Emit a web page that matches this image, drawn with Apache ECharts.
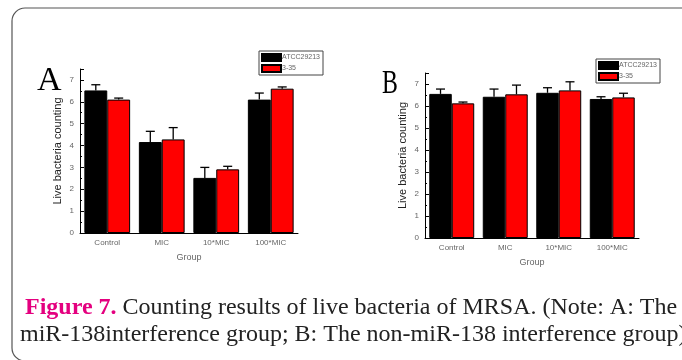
<!DOCTYPE html>
<html>
<head>
<meta charset="utf-8">
<script src="https://cdn.jsdelivr.net/npm/echarts@6/dist/echarts.min.js"></script>
<style>
  html, body { margin: 0; padding: 0; background: #fff; }
  #chart { width: 682px; height: 360px; }
</style>
</head>
<body>
<div id="chart"></div>
<script>
// groups on the x axis
const groups = ['Control', 'MIC', '10*MIC', '100*MIC']
const seriesNames = ['ATCC29213', '3-35']

// panel A: miR-138 interference group (mean and top of error bar)
const aAtcc = [6.52, 4.16, 2.52, 6.10]
const aAtccUpper = [6.78, 4.65, 3.00, 6.40]
const a335 = [6.10, 4.28, 2.91, 6.60]
const a335Upper = [6.17, 4.82, 3.05, 6.68]

// panel B: non-miR-138 interference group
const bAtcc = [6.55, 6.42, 6.60, 6.32]
const bAtccUpper = [6.77, 6.77, 6.83, 6.42]
const b335 = [6.12, 6.53, 6.71, 6.39]
const b335Upper = [6.18, 6.95, 7.10, 6.58]

const yTicks = [0, 1, 2, 3, 4, 5, 6, 7]

const chart = echarts.init(document.getElementById('chart'))
const gapRatio = 0.16
const axisGray = '#666'

function errorSeries(idx, means, uppers, side) {
  return {
    type: 'custom',
    xAxisIndex: idx, yAxisIndex: idx,
    silent: true, z: 5,
    data: means.map((m, i) => [i, m, uppers[i]]),
    renderItem(params, api) {
      const band = api.size([1, 0])[0]
      const off = side * band * (1 - gapRatio) / 4
      const base = api.coord([api.value(0), api.value(1)])
      const top = api.coord([api.value(0), api.value(2)])
      const x = base[0] + off
      const cap = 4.5
      return {
        type: 'group',
        children: [
          { type: 'line', shape: { x1: x, y1: base[1], x2: x, y2: top[1] }, style: { stroke: '#000', lineWidth: 1.3 } },
          { type: 'line', shape: { x1: x - cap, y1: top[1], x2: x + cap, y2: top[1] }, style: { stroke: '#000', lineWidth: 1.3 } }
        ]
      }
    }
  }
}

function xAxisFor(idx) {
  return {
    type: 'category', gridIndex: idx, data: groups,
    name: 'Group', nameLocation: 'middle', nameGap: 20,
    nameTextStyle: { color: axisGray, fontSize: 9, fontFamily: 'Liberation Sans', letterSpacing: 1 },
    axisLine: { lineStyle: { color: '#000', width: 1 } },
    axisTick: { show: false },
    axisLabel: { color: axisGray, fontSize: 8, margin: 6, fontFamily: 'Liberation Sans', letterSpacing: 0.8 }
  }
}

function yAxisFor(idx) {
  return {
    type: 'value', gridIndex: idx, min: 0, max: 7.5, interval: 1,
    name: 'Live bacteria counting', nameLocation: 'middle', nameGap: 17,
    nameTextStyle: { color: '#222', fontSize: 11, fontFamily: 'Liberation Sans' },
    axisLine: { show: true, lineStyle: { color: '#000', width: 1 } },
    axisTick: { show: true, inside: true, length: 4, lineStyle: { color: '#000' } },
    minorTick: { show: true, splitNumber: 2, length: 2, lineStyle: { color: '#000' } },
    splitLine: { show: false },
    axisLabel: {
      color: axisGray, fontSize: 8, margin: 6, fontFamily: 'Liberation Sans',
      showMaxLabel: false,
      formatter: v => (yTicks.indexOf(v) >= 0 ? String(v) : '')
    }
  }
}

function barSeries(idx, name, values, color) {
  return {
    name, type: 'bar', xAxisIndex: idx, yAxisIndex: idx,
    data: values, barGap: 0, barCategoryGap: (gapRatio * 100) + '%',
    itemStyle: { color, borderColor: '#000', borderWidth: 1 }
  }
}

function legendFor(left, top) {
  return {
    data: seriesNames, orient: 'vertical', left, top,
    itemWidth: 19, itemHeight: 7, itemGap: 2,
    padding: [2, 3, 2, 2],
    borderColor: '#444', borderWidth: 1,
    icon: 'rect', selectedMode: false,
    textStyle: { color: axisGray, fontSize: 7, padding: [0, 0, 0, -4], fontFamily: 'Liberation Sans' }
  }
}

chart.setOption({
  backgroundColor: '#fff',
  animation: false,
  grid: [
    { left: 80, right: 384, top: 69, bottom: 127 },
    { left: 425, right: 43, top: 73, bottom: 122 }
  ],
  xAxis: [xAxisFor(0), xAxisFor(1)],
  yAxis: [yAxisFor(0), yAxisFor(1)],
  legend: [legendFor(259, 51), legendFor(596, 59)],
  series: [
    barSeries(0, seriesNames[0], aAtcc, '#000'),
    barSeries(0, seriesNames[1], a335, '#ff0000'),
    barSeries(1, seriesNames[0], bAtcc, '#000'),
    barSeries(1, seriesNames[1], b335, '#ff0000'),
    errorSeries(0, aAtcc, aAtccUpper, -1),
    errorSeries(0, a335, a335Upper, 1),
    errorSeries(1, bAtcc, bAtccUpper, -1),
    errorSeries(1, b335, b335Upper, 1)
  ],
  graphic: [
    // rounded frame around the figure
    { type: 'rect', shape: { x: 12, y: 8, width: 720, height: 353, r: 13 }, style: { fill: 'none', stroke: '#555', lineWidth: 1.2 }, silent: true },
    { type: 'text', x: 37, y: 64, style: { text: 'A', font: '34px "Liberation Serif"', fill: '#000' } },
    { type: 'text', x: 382, y: 67, scaleX: 0.7, style: { text: 'B', font: '34px "Liberation Serif"', fill: '#000' } },
    {
      type: 'text', x: 25, y: 296,
      style: {
        text: '{f|Figure 7.} Counting results of live bacteria of MRSA. (Note: A: The',
        font: '24px "Liberation Serif"', fill: '#222',
        rich: { f: { fontWeight: 'bold', fill: '#e4007f', fontSize: 24, fontFamily: 'Liberation Serif' } }
      }
    },
    {
      type: 'text', x: 20, y: 323,
      style: { text: 'miR-138interference group; B: The non-miR-138 interference group)', font: '24px "Liberation Serif"', fill: '#222' }
    }
  ]
})
</script>
</body>
</html>
